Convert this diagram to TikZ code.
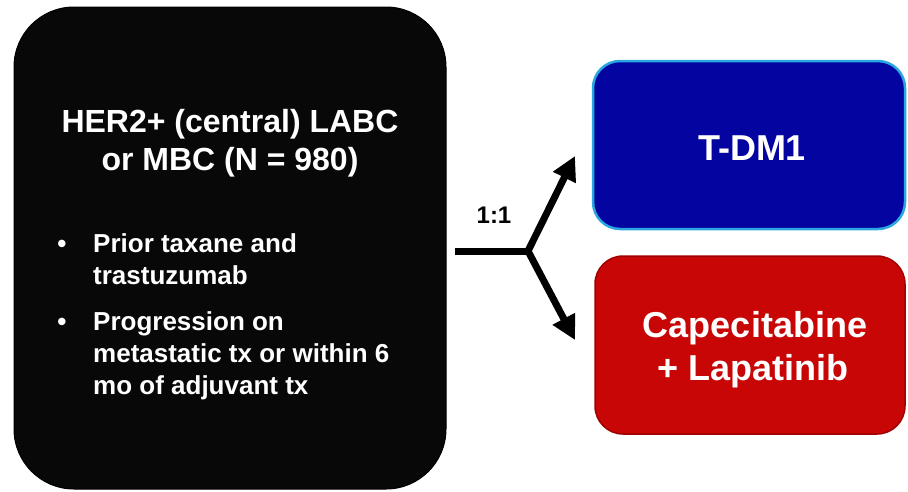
\documentclass[tikz,border=0pt]{standalone}
\usepackage{fontspec}
\setmainfont{Liberation Sans}
\usetikzlibrary{arrows.meta}
\definecolor{boxblack}{HTML}{080808}
\definecolor{boxblue}{HTML}{0404A0}
\definecolor{edgeblue}{HTML}{2AA7E0}
\definecolor{boxred}{HTML}{C80606}
\definecolor{edgered}{HTML}{A00000}
\begin{document}
\begin{tikzpicture}[x=1pt,y=-1pt,
  panel/.style={rectangle, inner sep=0pt, outer sep=0pt},
  blackpanel/.style={panel, fill=boxblack, draw=black, line width=1pt, rounded corners=60pt, minimum width=432pt, minimum height=482pt},
  bluepanel/.style={panel, fill=boxblue, draw=edgeblue, line width=2.5pt, rounded corners=27pt, minimum width=312pt, minimum height=168pt},
  redpanel/.style={panel, fill=boxred, draw=edgered, line width=1.5pt, rounded corners=28pt, minimum width=310pt, minimum height=178pt},
  wtext/.style={text=white, inner sep=0pt, font=\bfseries},
  titletext/.style={wtext, font=\fontsize{32}{38}\selectfont\bfseries, align=center},
  bullettext/.style={wtext, font=\fontsize{26}{32}\selectfont\bfseries, align=left},
  armtext/.style={wtext, font=\fontsize{36}{43}\selectfont\bfseries, align=center},
  ratiotext/.style={inner sep=0pt, font=\fontsize{24}{28}\selectfont\bfseries},
  flow/.style={line width=7pt},
  flowarrow/.style={flow, -{Triangle[length=24pt,width=24pt]}}
]
\useasboundingbox (0,0) rectangle (908,491);
% panels
\node[blackpanel] (pop) at (230,248) {};
\node[bluepanel] (tdm) at (749,145) {};
\node[redpanel] (cap) at (750,345) {};
% population text
\node[titletext, anchor=base] (title1) at (230,132) {HER2+ (central) LABC};
\node[titletext, anchor=base] (title2) at (230,170) {or MBC (N = 980)};
\node[bullettext, anchor=base] (b1) at (62,252) {•};
\node[bullettext, anchor=base west] (b1a) at (93,252) {Prior taxane and};
\node[bullettext, anchor=base west] (b1b) at (93,284) {trastuzumab};
\node[bullettext, anchor=base] (b2) at (62,330) {•};
\node[bullettext, anchor=base west] (b2a) at (93,330) {Progression on};
\node[bullettext, anchor=base west] (b2b) at (93,362) {metastatic tx or within 6};
\node[bullettext, anchor=base west] (b2c) at (93,394) {mo of adjuvant tx};
% arm text
\node[armtext, anchor=base] (tdmtext) at (752,160) {T-DM1};
\node[armtext, anchor=base] (captext1) at (755,337) {Capecitabine};
\node[armtext, anchor=base] (captext2) at (753,380) {+ Lapatinib};
% randomisation
\coordinate (start) at (455,251);
\coordinate (split) at (528,251);
\coordinate (tipup) at (575,156);
\coordinate (tipdown) at (575,340);
\draw[flow] (start) -- (split);
\draw[flowarrow, line join=miter] (split) -- (tipup);
\draw[flowarrow] (split) -- (tipdown);
\node[ratiotext, anchor=base] (ratio) at (494,223) {1:1};
\end{tikzpicture}
\end{document}
